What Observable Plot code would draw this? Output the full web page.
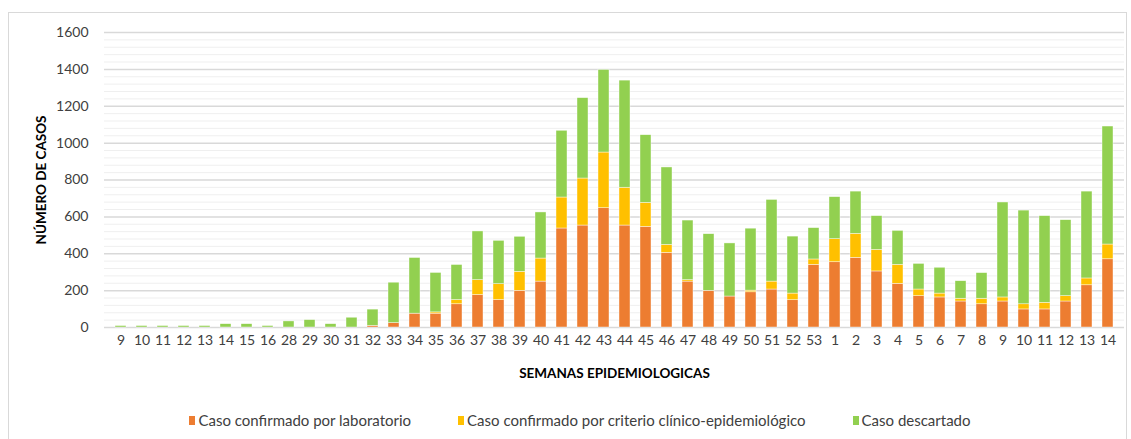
<!DOCTYPE html>
<html>
<head>
<meta charset="utf-8">
<script src="https://cdn.jsdelivr.net/npm/d3@7"></script>
<script src="https://cdn.jsdelivr.net/npm/@observablehq/plot@0.6"></script>
<style>
  html, body { margin: 0; padding: 0; background: #fff; }
  body { width: 1131px; height: 439px; position: relative; overflow: hidden; font-family: Lato, "Open Sans", sans-serif; }
  #frame { position: absolute; left: 8px; top: 12px; width: 1119px; height: 440px; border: 1px solid #d9d9d9; box-sizing: border-box; }
  #chart { position: absolute; left: 0; top: 0; }
  #legend { position: absolute; left: 0; top: 411px; width: 1131px; display: flex; justify-content: center; gap: 47px; font-size: 15px; color: #404040; padding-left: 29px; box-sizing: border-box; }
  #legend .item { display: flex; align-items: center; gap: 3px; }
  #legend .sw { width: 6px; height: 9px; display: inline-block; }
</style>
</head>
<body>
<div id="frame"></div>
<div id="chart"></div>
<div id="legend"></div>
<script>
const weeks = ["9","10","11","12","13","14","15","16","28","29","30","31","32","33","34","35","36","37","38","39","40","41","42","43","44","45","46","47","48","49","50","51","52","53","1","2","3","4","5","6","7","8","9","10","11","12","13","14"];
const laboratorio = [0,0,0,0,0,0,0,0,0,0,0,0,9,24,75,75,126,176,149,199,249,537,553,647,553,546,405,249,199,168,191,206,148,340,354,378,304,237,170,163,141,126,141,98,98,141,229,370];
const clinico     = [0,0,0,0,0,0,0,0,0,0,0,0,0,0,0,7,23,81,86,103,125,168,255,302,205,130,43,8,0,0,9,43,36,29,125,130,117,103,36,21,15,30,22,28,36,29,37,80];
const descartado  = [8,8,8,8,8,18,18,8,33,40,18,53,88,219,302,214,190,264,235,190,250,362,436,448,581,367,420,323,307,288,336,443,309,170,228,229,183,184,139,140,95,139,515,508,470,412,471,640];
const seriesNames = ["Caso confirmado por laboratorio", "Caso confirmado por criterio clínico-epidemiológico", "Caso descartado"];
const seriesColors = ["#ED7D31", "#FFC000", "#92D050"];
const yTicks = [0,200,400,600,800,1000,1200,1400,1600];

const seriesValues = [laboratorio, clinico, descartado];
const data = [];
seriesNames.forEach((s, k) => {
  seriesValues[k].forEach((v, i) => data.push({i, serie: s, value: v}));
});
const minorTicks = d3.range(0, 1601, 40).filter(v => v % 200 !== 0);

const chart = Plot.plot({
  width: 1131,
  height: 395,
  marginLeft: 104,
  marginRight: 7,
  marginTop: 32,
  marginBottom: 68,
  style: {fontFamily: "Lato, 'Open Sans', sans-serif", fontSize: "14px", color: "#404040", background: "transparent"},
  x: {type: "band", domain: d3.range(weeks.length), paddingInner: 0.48, paddingOuter: 0.24},
  y: {domain: [0, 1600]},
  color: {domain: seriesNames, range: seriesColors},
  marks: [
    Plot.ruleY(minorTicks, {stroke: "#efefef", strokeWidth: 1}),
    Plot.ruleY(yTicks, {stroke: "#d9d9d9", strokeWidth: 1.5}),
    Plot.barY(data, {x: "i", y: "value", fill: "serie", stroke: "#ffffff", strokeWidth: 0.6, strokeOpacity: 0.7}),
    Plot.axisY({ticks: yTicks, tickFormat: d => String(d), tickSize: 0, tickPadding: 16, label: "NÚMERO DE CASOS", labelAnchor: "center", labelArrow: "none", labelOffset: 68, fontSize: 14}),
    Plot.axisX({tickFormat: i => weeks[i], tickSize: 0, tickPadding: 8, label: "SEMANAS EPIDEMIOLOGICAS", labelAnchor: "center", labelArrow: "none", labelOffset: 50, fontSize: 14})
  ]
});
document.getElementById("chart").appendChild(chart);
chart.querySelectorAll("g[aria-label='y-axis label'] text, g[aria-label='x-axis label'] text").forEach(t => {
  t.style.fontWeight = "bold";
  t.style.fill = "#000";
  t.style.fontSize = "13.5px";
});

const legend = document.getElementById("legend");
seriesNames.forEach((s, k) => {
  const item = document.createElement("div");
  item.className = "item";
  const sw = document.createElement("span");
  sw.className = "sw";
  sw.style.background = seriesColors[k];
  const tx = document.createElement("span");
  tx.textContent = s;
  item.appendChild(sw);
  item.appendChild(tx);
  legend.appendChild(item);
});
</script>
</body>
</html>
